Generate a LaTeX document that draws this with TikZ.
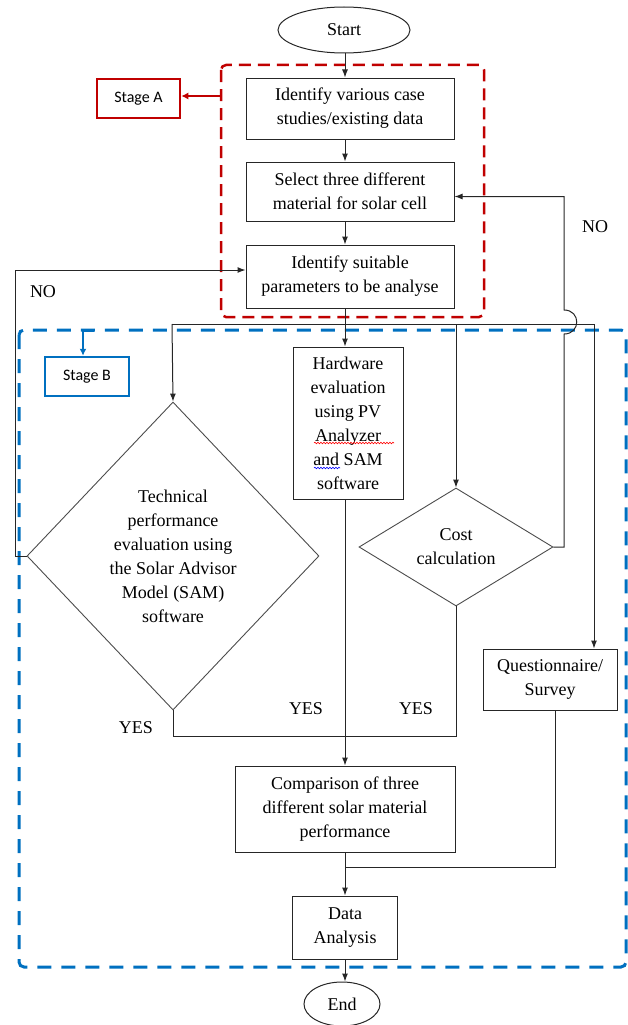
\documentclass[tikz,border=0pt]{standalone}
\usepackage{fontspec}
\setmainfont{Liberation Serif}
\newfontfamily\calib{Carlito}
\usetikzlibrary{arrows.meta,shapes.geometric,decorations.pathmorphing}
\definecolor{stageRed}{RGB}{192,0,0}
\definecolor{stageBlue}{RGB}{0,112,192}
\begin{document}
\begin{tikzpicture}[x=1pt,y=-1pt,
  every node/.style={font=\fontsize{18}{24}\selectfont},
  box/.style={draw=black!85, line width=1pt, align=center, inner sep=0pt},
  dia/.style={draw=black!70, line width=0.9pt, diamond, align=center, inner sep=0pt},
  term/.style={draw=black!85, line width=1pt, ellipse, inner sep=0pt},
  arr/.style={line width=1pt, draw=black!85, -{Latex[length=8pt,width=6pt]}},
  ln/.style={line width=1pt, draw=black!85},
  lbl/.style={inner sep=0pt},
  stagebox/.style={line width=2.5pt, inner sep=0pt, font=\calib\fontsize{16}{18}\selectfont},
  squig/.style={line width=0.6pt, decorate, decoration={snake, segment length=3pt, amplitude=0.8pt}},
]
\useasboundingbox (0,0) rectangle (627,1025);
% group frames
\draw[stageRed, line width=2.5pt, dash pattern=on 12pt off 7pt, rounded corners=5pt] (221,65) rectangle (484,317);
\draw[stageBlue, line width=3pt, dash pattern=on 14pt off 10pt, rounded corners=5pt] (19,330) rectangle (626,967);
% nodes
\node[term, minimum width=132pt, minimum height=46pt] (start) at (344,30) {Start};
\node[box, minimum width=208pt, minimum height=61pt] (box1) at (350,108.5) {Identify various case\\studies/existing data};
\node[box, minimum width=208pt, minimum height=59pt] (box2) at (350,191.5) {Select three different\\material for solar cell};
\node[box, minimum width=208pt, minimum height=63pt] (box3) at (350,276.5) {Identify suitable\\parameters to be analyse};
\node[box, minimum width=110pt, minimum height=152pt] (hw) at (348,423) {Hardware\\evaluation\\using PV\\Analyzer\\and SAM\\software};
\node[dia, aspect=0.95, minimum width=292pt, minimum height=308pt] (tech) at (173,556) {Technical\\performance\\evaluation using\\the Solar Advisor\\Model (SAM)\\software};
\node[dia, aspect=1.64, minimum width=194pt, minimum height=118pt] (cost) at (456,547) {Cost\\calculation};
\node[box, minimum width=134pt, minimum height=61pt] (quest) at (550,679.5) {Questionnaire/\\Survey};
\node[box, minimum width=220pt, minimum height=86pt] (comp) at (345,809) {Comparison of three\\different solar material\\performance};
\node[box, minimum width=105pt, minimum height=63pt] (da) at (345,927.5) {Data\\Analysis};
\node[term, minimum width=76pt, minimum height=44pt] (end) at (342,1004) {End};
\node[stagebox, draw=stageRed, minimum width=83pt, minimum height=39pt] (stageA) at (138.5,98.5) {Stage A};
\node[stagebox, draw=stageBlue, minimum width=84pt, minimum height=39pt] (stageB) at (87,376.5) {Stage B};
% labels
\node[lbl] (noR) at (595,227) {NO};
\node[lbl] (noL) at (43,292) {NO};
\node[lbl] (yes1) at (136,728) {YES};
\node[lbl] (yes2) at (306,709) {YES};
\node[lbl] (yes3) at (416,709) {YES};
% coordinates
\coordinate (dl) at (172,324);
\coordinate (dm) at (345,324);
\coordinate (dr) at (594,324);
\coordinate (fb) at (564,0);
\coordinate (lb) at (15,0);
\coordinate (yb) at (0,736);
\coordinate (mq) at (345,867);
\coordinate (ra) at (221,96);
\coordinate (ba) at (94,331);
% main flow
\draw[arr] (start.south -| dm) -- (box1.north -| dm);
\draw[arr] (box1.south -| dm) -- (box2.north -| dm);
\draw[arr] (box2.south -| dm) -- (box3.north -| dm);
\draw[arr] (box3.south -| dm) -- (hw.north -| dm);
\draw[ln] (dl) -- (dr);
\draw[arr] (dl) -- (tech.north);
\draw[arr] (cost.north |- dl) -- (cost.north);
\draw[arr] (dr) -- (dr |- quest.north);
% feedback loops
\draw[arr] (cost.east) -- (cost.east -| fb) -- ([yshift=-10pt]dr -| fb)
  .. controls +(17,0) and +(17,0) .. ([yshift=14pt]dr -| fb)
  -- ([yshift=-5pt]box2.east -| fb) -- ([yshift=-5pt]box2.east);
\draw[arr] (tech.west) -- (tech.west -| lb) -- ([yshift=6.5pt]box3.west -| lb) -- ([yshift=6.5pt]box3.west);
% yes merge
\draw[ln] (tech.south) -- (tech.south |- yb) -| (cost.south);
\draw[arr] (hw.south -| dm) -- (comp.north -| dm);
\draw[ln] ([xshift=5pt]quest.south) |- (mq);
\draw[arr] (comp.south) -- (da.north);
\draw[arr] (da.south) -- (da.south |- end.north);
% stage markers
\draw[stageRed, line width=2.5pt, -{Latex[length=7pt,width=7pt]}] (ra) -- (ra -| stageA.east);
\draw[stageBlue, line width=2.5pt, -{Latex[length=7pt,width=7pt]}] (ba) -| ([xshift=-4pt]stageB.north);
% spell-check squiggles
\draw[squig, red] (314,443) -- (394,443);
\draw[squig, blue] (314,468) -- (340,468);
\end{tikzpicture}
\end{document}
